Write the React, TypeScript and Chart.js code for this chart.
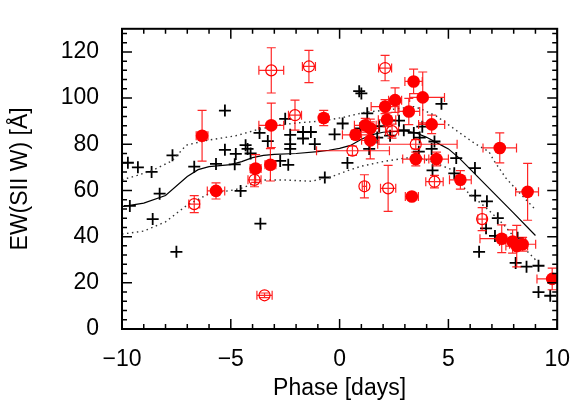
import React, { useEffect, useRef } from 'react';
import { Chart, registerables } from 'chart.js';

Chart.register(...registerables);

// ---- Axis ticks ----
const xTickValues = [-10, -5, 0, 5, 10];
const yTickValues = [0, 20, 40, 60, 80, 100, 120];

// ---- Black plus markers ----
const plusX = [-9.73, -9.27, -8.64, -9.64, -8.27, -8.59, -7.5, -7.68, -6.68, -5.27, -5.27, -5.68, -4.82, -4.77, -4.32, -4.23, -4.09, -4.55, -3.64, -3.68, -3.3, -2.5, -2.27, -2.27, -2.27, -1.68, -1.68, -1.32, -1.14, -2.73, -2.36, -0.68, -0.23, 0.14, 0.9, 1.0, 1.27, 0.95, 1.82, 2.73, 2.95, 3.41, 3.8, 2.32, 1.73, 3.68, 1.36, 0.36, 3.64, 4.68, 4.36, 4.23, 5.36, 4.27, 5.27, 6.22, 6.23, 6.77, 7.27, 6.73, 7.14, 6.41, 8.18, 8.09, 8.59, 9.14, 9.14, 9.68];
const plusY = [72, 70, 68, 53.3, 58.6, 47.6, 33.4, 75.2, 70.3, 94.6, 77.6, 71.5, 71.3, 75.8, 79.6, 78, 76, 59.8, 45.6, 84.9, 81.4, 91, 84.1, 80.1, 78, 85.3, 82.5, 85.3, 80.1, 72.8, 71.1, 65.6, 84.3, 89, 103, 102, 93.4, 86.9, 87.8, 90.2, 86.1, 84.9, 87.6, 83.7, 82.9, 82.9, 78, 71.9, 76.8, 97.5, 81.2, 78, 74, 68.7, 67.4, 69.7, 57.8, 55.3, 48, 43.6, 40.3, 33.4, 39.5, 28.6, 27, 27.4, 16, 14.4];

// ---- Red filled circles ----
const filledX = [-6.32, -5.68, -3.86, -3.18, -3.14, -0.73, 0.73, 1.18, 1.41, 1.41, 2.09, 2.55, 2.18, 3.18, 3.4, 3.82, 4.23, 3.5, 4.45, 3.32, 5.55, 7.36, 8.64, 7.45, 7.95, 8.14, 8.41, 9.77];
const filledY = [83.7, 59.8, 69.5, 71.1, 88.2, 91.4, 84.1, 88.2, 86.9, 81.7, 96.3, 99.1, 90.6, 94.2, 107.2, 100.3, 88.6, 73.6, 73.6, 57.4, 64.6, 78.4, 59.4, 39.1, 37.9, 35.9, 36.7, 21.7];
const filledXErrLo = [0.27, 0.4, 0.25, 0.25, 0.57, 0.2, 0.6, 0.5, 0.4, 0.4, 0.64, 0.3, 0.4, 0.5, 0.4, 0.6, 0.6, 0.6, 0.55, 0.3, 0.5, 0.77, 0.55, 1.0, 0.6, 0.5, 0.6, 0.7];
const filledXErrHi = [0.27, 0.4, 0.25, 0.25, 0.57, 0.2, 0.6, 0.5, 0.4, 0.4, 0.64, 0.3, 0.4, 0.5, 0.4, 1.0, 0.6, 0.6, 0.55, 0.3, 0.5, 0.77, 0.5, 0.5, 0.6, 0.5, 0.6, 0.7];
const filledYErr = [11, 3.5, 6, 7, 9.6, 3.3, 2, 3, 4, 8, 3, 5.3, 3, 5.7, 5.3, 11, 4, 3, 3, 1.5, 4, 6.5, 12.3, 6, 5, 9, 3, 4.7];

// ---- Red open circles ----
const openX = [-3.14, -1.41, 2.09, -2.05, 0.59, 2.41, 3.5, -6.68, -3.91, -3.45, 1.14, 2.23, 4.36, 6.55];
const openY = [112, 113.7, 113, 92.6, 77.2, 85.7, 80, 54.1, 64.6, 14.6, 61.8, 60.9, 63.8, 47.6];
const openXErrLo = [0.57, 0.3, 0.3, 0.3, 1.65, 0.3, 1.75, 0.25, 0.3, 0.35, 0.1, 0.35, 0.4, 0.2];
const openXErrHi = [0.57, 0.3, 0.3, 0.3, 1.7, 0.3, 1.9, 0.25, 0.3, 0.35, 0.1, 0.35, 0.4, 0.2];
const openYErr = [9.8, 7, 5.5, 6.5, 2, 3, 2, 3.7, 3, 1, 5, 10, 2.7, 5];

// ---- Mean curve and dotted band ----
const meanX = [-10, -9, -8, -7, -6.5, -6, -5, -4.5, -4, -3.5, -3, -2, -1, -0.5, 0, 0.5, 1, 1.5, 2, 3, 3.5, 4, 4.5, 5, 5.5, 6, 7, 8, 9];
const meanY = [53, 54.5, 57.8, 66, 69, 70.3, 71.2, 72.5, 74.2, 75.2, 75.6, 76, 76.8, 77.4, 78.2, 79.5, 82.2, 84.2, 85.2, 85.8, 85, 83, 80.5, 78, 74, 69.2, 59.7, 50.2, 40.5];
const upperX = [-10, -9.3, -8.6, -7.7, -7.05, -6.14, -4.77, -3.86, -3, -2, -0.68, 0.23, 1.14, 2.32, 3.41, 3.68, 4.45, 5.82, 6.27, 6.86, 7.1, 7.64, 8.1, 9];
const upperY = [64.6, 66.5, 68.7, 72.8, 79.6, 81.6, 83.7, 86.1, 88, 89.2, 90.2, 91.8, 93.8, 95, 96.3, 95.5, 92.2, 82.9, 80, 76.8, 72.8, 65.4, 60.6, 51.7];
const lowerX = [-10, -9, -8, -7, -6, -5, -4.5, -3.5, -2.5, -1.3, -0.5, 0.4, 1, 2, 3, 3.6, 4.5, 5.23, 5.82, 6.73, 7.5, 8.23, 9];
const lowerY = [41.1, 42.4, 46.4, 53.7, 58.6, 60, 61, 64.5, 64.5, 64, 65.5, 68.7, 70.5, 72.5, 74, 74.5, 71.5, 68.7, 59.8, 52.5, 45.6, 37.5, 30];

const FONT = "'Liberation Sans', Arial, Helvetica, sans-serif";
const RED = '#ff0000';

const errorBarPlugin = {
  id: 'errorBars',
  beforeDatasetDraw(chart: any, args: any) {
    const ds: any = chart.data.datasets[args.index];
    if (!ds.errY) return;
    const { ctx, chartArea: a } = chart;
    const xs = chart.scales.x;
    const ys = chart.scales.y;
    const cap = 4.5;
    ctx.save();
    ctx.beginPath();
    ctx.rect(a.left, a.top, a.right - a.left, a.bottom - a.top);
    ctx.clip();
    ctx.strokeStyle = 'rgba(255,0,0,0.85)';
    ctx.lineWidth = 1.2;
    ctx.beginPath();
    ds.data.forEach((p: any, i: number) => {
      const px = xs.getPixelForValue(p.x);
      const py = ys.getPixelForValue(p.y);
      const x0 = xs.getPixelForValue(p.x - ds.errXLo[i]);
      const x1 = xs.getPixelForValue(p.x + ds.errXHi[i]);
      const y0 = ys.getPixelForValue(p.y - ds.errY[i]);
      const y1 = ys.getPixelForValue(p.y + ds.errY[i]);
      ctx.moveTo(x0, py); ctx.lineTo(x1, py);
      ctx.moveTo(x0, py - cap); ctx.lineTo(x0, py + cap);
      ctx.moveTo(x1, py - cap); ctx.lineTo(x1, py + cap);
      ctx.moveTo(px, y0); ctx.lineTo(px, y1);
      ctx.moveTo(px - cap, y0); ctx.lineTo(px + cap, y0);
      ctx.moveTo(px - cap, y1); ctx.lineTo(px + cap, y1);
    });
    ctx.stroke();
    ctx.restore();
  },
};

const framePlugin = {
  id: 'frame',
  afterDatasetsDraw(chart: any) {
    const { ctx, chartArea: a } = chart;
    const xs = chart.scales.x;
    const ys = chart.scales.y;
    ctx.save();
    ctx.strokeStyle = '#000';
    ctx.lineWidth = 1.5;
    ctx.beginPath();
    for (let v = -10; v <= 10; v += 1) {
      const len = v % 5 === 0 ? 10 : 5;
      const px = xs.getPixelForValue(v);
      ctx.moveTo(px, a.bottom); ctx.lineTo(px, a.bottom - len);
      ctx.moveTo(px, a.top); ctx.lineTo(px, a.top + len);
    }
    for (let v = 0; v <= 130; v += 4) {
      const len = v % 20 === 0 ? 10 : 5;
      const py = ys.getPixelForValue(v);
      ctx.moveTo(a.left, py); ctx.lineTo(a.left + len, py);
      ctx.moveTo(a.right, py); ctx.lineTo(a.right - len, py);
    }
    ctx.stroke();
    ctx.lineWidth = 2;
    ctx.strokeRect(a.left, a.top, a.right - a.left, a.bottom - a.top);
    ctx.restore();
  },
};

function pts(xs: number[], ys: number[]) {
  return xs.map((x, i) => ({ x, y: ys[i] }));
}

function fmt(v: number) {
  return v < 0 ? '\u2212' + Math.abs(v) : String(v);
}

export default function App() {
  const ref = useRef<HTMLCanvasElement>(null);
  useEffect(() => {
    const canvas = ref.current;
    if (!canvas) return;
    const font = { family: FONT, size: 23 };
    const chart = new Chart(canvas, {
      type: 'scatter',
      data: {
        datasets: [
          {
            label: 'filled',
            data: pts(filledX, filledY),
            pointStyle: 'circle',
            pointRadius: 6.3,
            backgroundColor: RED,
            borderColor: RED,
            borderWidth: 0,
            errXLo: filledXErrLo,
            errXHi: filledXErrHi,
            errY: filledYErr,
          } as any,
          {
            label: 'open',
            data: pts(openX, openY),
            pointStyle: 'circle',
            pointRadius: 5.5,
            backgroundColor: 'rgba(0,0,0,0)',
            borderColor: RED,
            borderWidth: 1.2,
            errXLo: openXErrLo,
            errXHi: openXErrHi,
            errY: openYErr,
          } as any,
          {
            label: 'mean',
            type: 'line',
            data: pts(meanX, meanY),
            borderColor: '#000',
            borderWidth: 1.2,
            pointRadius: 0,
            tension: 0,
            fill: false,
          } as any,
          {
            label: 'upper',
            type: 'line',
            data: pts(upperX, upperY),
            borderColor: '#333',
            borderWidth: 1.4,
            borderDash: [1.5, 3.5],
            pointRadius: 0,
            tension: 0,
            fill: false,
          } as any,
          {
            label: 'lower',
            type: 'line',
            data: pts(lowerX, lowerY),
            borderColor: '#333',
            borderWidth: 1.4,
            borderDash: [1.5, 3.5],
            pointRadius: 0,
            tension: 0,
            fill: false,
          } as any,
          {
            label: 'plus',
            data: pts(plusX, plusY),
            pointStyle: 'cross',
            pointRadius: 6,
            borderColor: '#000',
            borderWidth: 1.8,
          } as any,
        ],
      },
      options: {
        animation: false,
        responsive: true,
        maintainAspectRatio: false,
        events: [],
        layout: { padding: { top: 10, right: 17, left: 0, bottom: 0 } },
        plugins: { legend: { display: false }, tooltip: { enabled: false } },
        scales: {
          x: {
            type: 'linear',
            min: -10,
            max: 10,
            afterBuildTicks: (s: any) => {
              s.ticks = xTickValues.map((v) => ({ value: v }));
            },
            afterFit: (s: any) => {
              s.height = 77;
            },
            grid: { display: false },
            border: { display: false },
            ticks: {
              font,
              color: '#000',
              padding: 9,
              maxRotation: 0,
              autoSkip: false,
              callback: (v: any) => fmt(Number(v)),
            },
            title: {
              display: true,
              text: 'Phase [days]',
              font,
              color: '#000',
              padding: { top: 0, bottom: 4 },
            },
          },
          y: {
            type: 'linear',
            min: 0,
            max: 130,
            afterBuildTicks: (s: any) => {
              s.ticks = yTickValues.map((v) => ({ value: v }));
            },
            afterFit: (s: any) => {
              s.width = 122;
            },
            grid: { display: false },
            border: { display: false },
            ticks: {
              font,
              color: '#000',
              padding: 15,
              autoSkip: false,
              callback: (v: any) => fmt(Number(v)),
            },
            title: {
              display: true,
              text: 'EW(SII W) [Å]',
              font,
              color: '#000',
              padding: { top: 7, bottom: 0 },
            },
          },
        },
      } as any,
      plugins: [errorBarPlugin, framePlugin],
    });
    return () => chart.destroy();
  }, []);
  return (
    <div style={{ position: 'absolute', left: 0, top: 0, width: 579, height: 406 }}>
      <canvas ref={ref} />
    </div>
  );
}
